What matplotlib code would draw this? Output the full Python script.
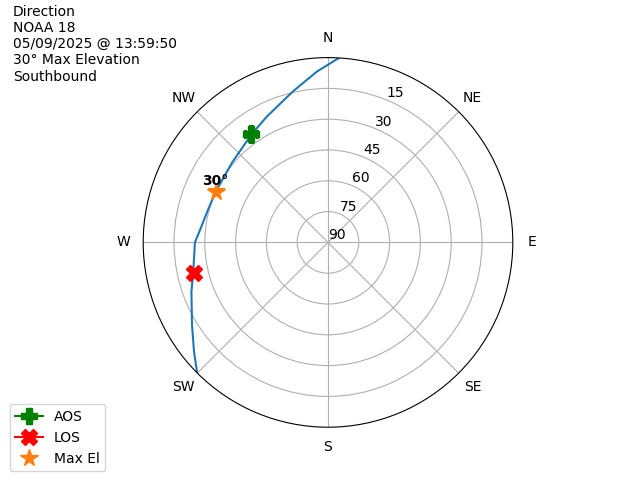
import numpy as np
from matplotlib import pyplot as plt

# pass track (azimuth deg, elevation deg)
track_az = [3.4, 356.2, 346.8, 334.0, 324.5, 309.9, 294.2, 284.2, 275.6, 270.0, 257.0, 250.2, 238.7, 230.8, 225.1]
track_el = [0.0, 6.7, 14.6, 21.9, 25.6, 29.2, 30.0, 29.3, 27.4, 25.2, 22.6, 19.3, 12.5, 5.8, 0.0]

aos_az, aos_el = 324.5, 25.4
los_az, los_el = 257.0, 23.0
max_az, max_el = 294.2, 30.0

dirs = ['N', 'NE', 'E', 'SE', 'S', 'SW', 'W', 'NW']
r_ticks = [15, 30, 45, 60, 75, 90]

info = "Direction\nNOAA 18\n05/09/2025 @ 13:59:50\n30° Max Elevation\nSouthbound"

fig = plt.figure(figsize=(6.4, 4.8), dpi=100)
ax = fig.add_subplot(projection='polar')
ax.set_theta_zero_location('N')
ax.set_theta_direction(-1)

ax.plot(np.radians(track_az), track_el)
ax.plot(np.radians(aos_az), aos_el, marker='P', color='green', markersize=11, label='AOS')
ax.plot(np.radians(los_az), los_el, marker='X', color='red', markersize=11, label='LOS')
ax.plot(np.radians(max_az), max_el, marker='*', color='tab:orange', markersize=13,
        linestyle='', label='Max El')
ax.annotate(f"{max_el:.0f}°", (np.radians(max_az), max_el), xytext=(0, 3),
            textcoords='offset points', ha='center', va='bottom', fontweight='bold')

ax.set_rlim(90, 0)
ax.set_yticks(r_ticks)
ax.set_thetagrids(range(0, 360, 45), dirs)

fig.text(0.02, 0.99, info, va='top', ha='left')
fig.legend(loc='lower left', bbox_to_anchor=(0.004, 0.004))

plt.savefig('out.png')
